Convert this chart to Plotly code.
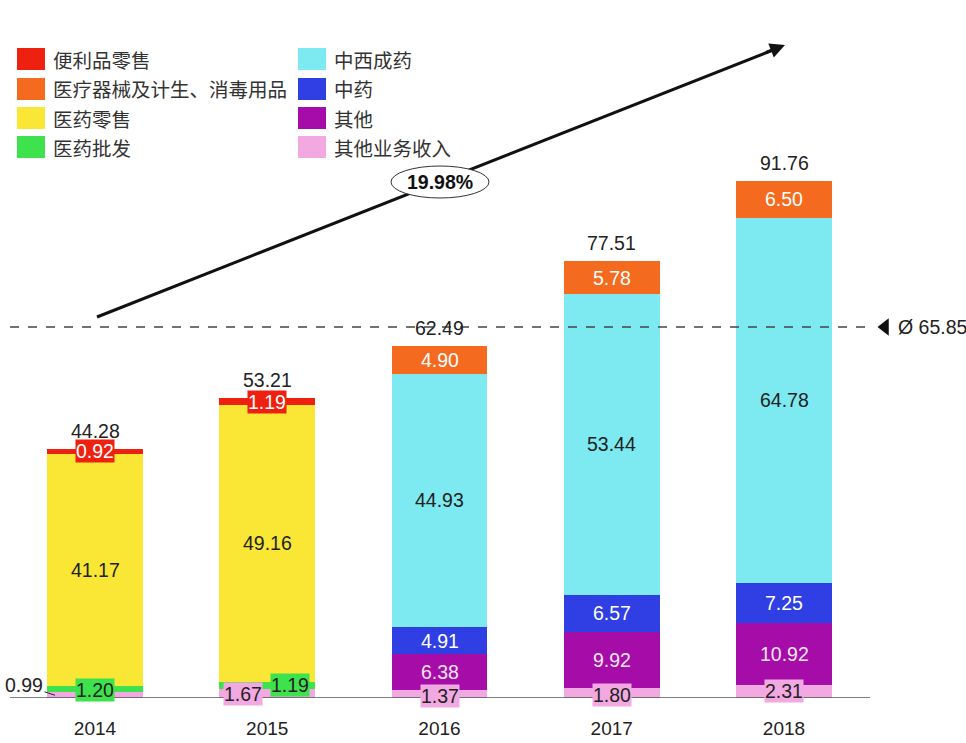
import plotly.graph_objects as go

# ---------------- data ----------------
years = ["2014", "2015", "2016", "2017", "2018"]

other_income = [0.99, 1.67, 1.37, 1.80, 2.31]      # 其他业务收入
wholesale = [1.20, 1.19, None, None, None]          # 医药批发
others = [None, None, 6.38, 9.92, 10.92]            # 其他
tcm = [None, None, 4.91, 6.57, 7.25]                # 中药
retail = [41.17, 49.16, None, None, None]           # 医药零售
western = [None, None, 44.93, 53.44, 64.78]         # 中西成药
devices = [None, None, 4.90, 5.78, 6.50]            # 医疗器械及计生、消毒用品
convenience = [0.92, 1.19, None, None, None]        # 便利品零售

totals = [44.28, 53.21, 62.49, 77.51, 91.76]

# stacking order bottom -> top
stack = [
    ("其他业务收入", other_income, "#F2A9E2", "#222222"),
    ("医药批发", wholesale, "#3EE24C", "#222222"),
    ("其他", others, "#A50CA8", "#FBE6F8"),
    ("中药", tcm, "#2F3FE3", "#FFFFFF"),
    ("医药零售", retail, "#FAE634", "#222222"),
    ("中西成药", western, "#7CEAF0", "#222222"),
    ("医疗器械及计生、消毒用品", devices, "#F46A1E", "#FFFFFF"),
    ("便利品零售", convenience, "#EE2010", "#FFFFFF"),
]

legend_col1 = ["便利品零售", "医疗器械及计生、消毒用品", "医药零售", "医药批发"]
legend_col2 = ["中西成药", "中药", "其他", "其他业务收入"]

avg_total = sum(totals) / len(totals)
cagr = (totals[-1] / totals[0]) ** (1 / (len(totals) - 1)) - 1

# ---------------- geometry helpers ----------------
W, H = 966, 743
X0, DX = 95.0, 172.25          # pixel of first bar centre, pixel per category
Y0, DY = 698.0, 5.634          # baseline pixel, pixel per unit
def xd(px): return (px - X0) / DX
def yd(py): return (Y0 - py) / DY
def xp(px): return px / W
def yp(py): return (Y0 - py) / Y0

NUM_FONT = "Liberation Sans, Arial, sans-serif"
CJK_FONT = "Noto Sans CJK SC, sans-serif"
NS = 19.5

fig = go.Figure()
xs = list(range(len(years)))
for name, vals, col, _ in stack:
    fig.add_trace(go.Bar(
        x=xs, y=[v if v is not None else 0 for v in vals], name=name,
        marker=dict(color=col, line=dict(width=0)), width=0.557,
        showlegend=False, hoverinfo="skip"))

# ---------------- segment labels ----------------
label_offsets = {  # (series, year index) -> (xshift, yshift) in px
    ("其他业务收入", 1): (-24, -1),
    ("医药批发", 1): (23, 0),
    ("医药批发", 0): (0, -1),
    ("其他业务收入", 2): (0, -2),
    ("其他业务收入", 3): (0, -2),
    ("其他业务收入", 4): (0, 0),
}
annotations = []
base = [0.0] * len(years)
for name, vals, col, tcol in stack:
    for i, v in enumerate(vals):
        if v is None:
            continue
        centre = base[i] + v / 2
        base[i] += v
        if name == "其他业务收入" and i == 0:
            annotations.append(dict(
                x=i, y=centre, xref="x", yref="y", text=f"{v:.2f}",
                showarrow=True, arrowhead=0, arrowwidth=1, arrowcolor="#222",
                xshift=-40, ax=-31, ay=-10, standoff=0,
                font=dict(family=NUM_FONT, size=NS, color="#222")))
            continue
        dx, dy = label_offsets.get((name, i), (0, 0))
        annotations.append(dict(
            x=i, y=centre, xref="x", yref="y", text=f"{v:.2f}", showarrow=False,
            xshift=dx, yshift=dy, bgcolor=col, borderpad=0,
            font=dict(family=NUM_FONT, size=NS, color=tcol)))

for i, t in enumerate(totals):
    annotations.append(dict(
        x=i, y=t, xref="x", yref="y", text=f"{t:.2f}", showarrow=False,
        yshift=18, font=dict(family=NUM_FONT, size=NS, color="#222")))

# average line label
annotations.append(dict(
    x=xp(896), y=avg_total, xref="paper", yref="y", xanchor="left", yanchor="middle",
    text=f"Ø {avg_total:.2f}", showarrow=False,
    font=dict(family=NUM_FONT, size=NS, color="#222")))

# growth arrow head
annotations.append(dict(
    x=xd(785), y=yd(45), xref="x", yref="y", text="", showarrow=True,
    arrowhead=2, arrowsize=1, arrowwidth=3, arrowcolor="#111",
    ax=-0.930 * 22, ay=0.368 * 22, standoff=0))
# CAGR text
annotations.append(dict(
    x=xd(440), y=yd(182), xref="x", yref="y", text=f"<b>{cagr*100:.2f}%</b>",
    showarrow=False, font=dict(family=NUM_FONT, size=NS, color="#111")))

# ---------------- legend (manual) ----------------
col_of = {name: col for name, _, col, _ in stack}
shapes = []
rows = [59, 89, 118, 147]
for names, sx, tx in [(legend_col1, 17, 51), (legend_col2, 298, 332)]:
    for name, ry in zip(names, rows):
        shapes.append(dict(type="rect", xref="paper", yref="paper",
                           x0=xp(sx), x1=xp(sx + 28), y0=yp(ry + 11), y1=yp(ry - 11),
                           fillcolor=col_of[name], line=dict(width=0)))
        annotations.append(dict(x=xp(tx), y=yp(ry), xref="paper", yref="paper",
                                xanchor="left", yanchor="middle", text=name, showarrow=False,
                                font=dict(family=CJK_FONT, size=19.5, color="#333")))

# baseline
shapes.append(dict(type="line", xref="paper", yref="y", x0=xp(10), x1=xp(870),
                   y0=0, y1=0, line=dict(color="#555", width=1.5), layer="above"))
# average dashed line
shapes.append(dict(type="line", xref="paper", yref="y", x0=xp(10), x1=xp(870),
                   y0=avg_total, y1=avg_total,
                   line=dict(color="#444", width=1.3, dash="dash"), layer="above"))
# arrow shaft
shapes.append(dict(type="line", xref="x", yref="y", x0=xd(97), y0=yd(317),
                   x1=xd(778), y1=yd(48), line=dict(color="#111", width=3), layer="above"))
# oval around CAGR
shapes.append(dict(type="circle", xref="x", yref="y", x0=xd(391), x1=xd(489),
                   y0=yd(198), y1=yd(166), fillcolor="white",
                   line=dict(color="#333", width=1), layer="above"))

# average marker
fig.add_trace(go.Scatter(x=[xd(885)], y=[avg_total], mode="markers",
                         marker=dict(symbol="triangle-left", size=15, color="#111"),
                         showlegend=False, hoverinfo="skip", cliponaxis=False))

fig.update_layout(
    width=W, height=H, barmode="stack",
    margin=dict(l=0, r=0, t=0, b=H - int(Y0)),
    paper_bgcolor="white", plot_bgcolor="white",
    shapes=shapes, annotations=annotations, showlegend=False,
    xaxis=dict(range=[xd(0), xd(W)], tickvals=xs, ticktext=years, showgrid=False,
               zeroline=False, showline=False, ticks="", ticklabelstandoff=17,
               tickfont=dict(family=NUM_FONT, size=19, color="#222")),
    yaxis=dict(range=[0, yd(0)], visible=False, showgrid=False, zeroline=False),
)

fig.write_html("out.html")
